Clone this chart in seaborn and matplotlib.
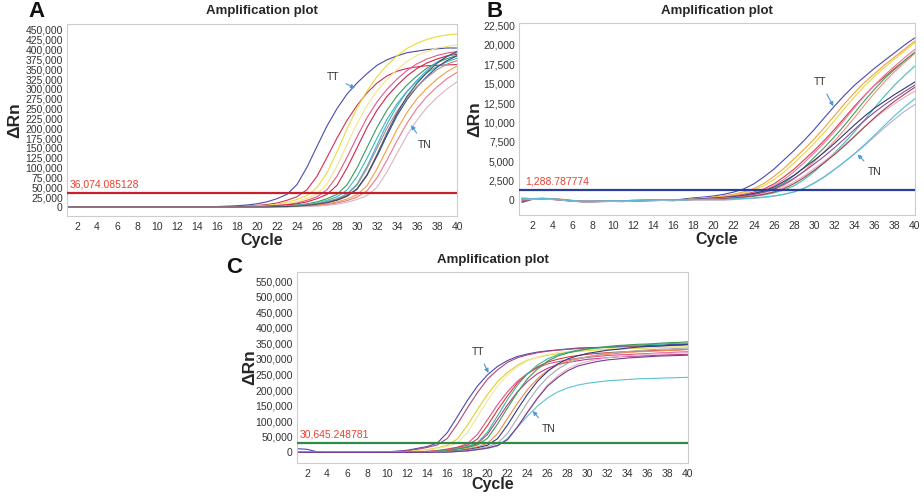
import pandas as pd
import seaborn as sns
import matplotlib.pyplot as plt
from matplotlib.ticker import FuncFormatter

cycles = list(range(1, 41))

# ---- panel A : delta Rn in thousands, one row per well ----
a_curves = [
    [0, 0, 0, 0, 0, 0, 0, 0, 0, 0, 0, 0, 0, 0, 0, 1, 2, 3, 5, 8, 13, 21, 32, 57, 101, 154, 206, 250, 287, 315, 339, 360, 374, 384, 392, 396, 400, 402, 404, 404],
    [0, 0, 0, 0, 0, 0, 0, 0, 0, 0, 0, 0, 0, 0, 0, 0, 1, 1, 2, 4, 6, 10, 17, 26, 44, 78, 126, 175, 220, 258, 290, 315, 333, 345, 352, 356, 359, 360, 361, 362],
    [0, 0, 0, 0, 0, 0, 0, 0, 0, 0, 0, 0, 0, 0, 0, 0, 0, 1, 1, 2, 4, 7, 12, 19, 29, 49, 87, 140, 198, 251, 295, 331, 360, 384, 403, 416, 426, 433, 437, 440],
    [0, 0, 0, 0, 0, 0, 0, 0, 0, 0, 0, 0, 0, 0, 0, 0, 0, 0, 1, 2, 3, 5, 8, 14, 22, 33, 58, 104, 158, 212, 258, 295, 324, 349, 370, 385, 395, 404, 408, 412],
    [0, 0, 0, 0, 0, 0, 0, 0, 0, 0, 0, 0, 0, 0, 0, 0, 0, 0, 1, 1, 2, 4, 6, 10, 17, 26, 44, 78, 126, 178, 227, 267, 299, 325, 347, 364, 376, 385, 391, 395],
    [0, 0, 0, 0, 0, 0, 0, 0, 0, 0, 0, 0, 0, 0, 0, 0, 0, 0, 0, 1, 2, 3, 5, 8, 13, 21, 32, 55, 99, 150, 202, 246, 281, 309, 333, 352, 366, 376, 384, 388],
    [0, 0, 0, 0, 0, 0, 0, 0, 0, 0, 0, 0, 0, 0, 0, 0, 0, 0, 0, 0, 1, 2, 3, 5, 8, 13, 21, 32, 56, 99, 151, 202, 246, 282, 310, 333, 353, 367, 377, 385],
    [0, 0, 0, 0, 0, 0, 0, 0, 0, 0, 0, 0, 0, 0, 0, 0, 0, 0, 0, 0, 1, 1, 2, 4, 6, 10, 17, 26, 43, 77, 124, 175, 223, 262, 294, 319, 341, 357, 369, 378],
    [0, 0, 0, 0, 0, 0, 0, 0, 0, 0, 0, 0, 0, 0, 0, 0, 0, 0, 0, 0, 0, 1, 2, 3, 5, 8, 14, 21, 33, 58, 103, 157, 211, 256, 293, 322, 347, 368, 382, 392],
    [0, 0, 0, 0, 0, 0, 0, 0, 0, 0, 0, 0, 0, 0, 0, 0, 0, 0, 0, 0, 0, 1, 1, 2, 4, 7, 11, 17, 27, 45, 80, 129, 182, 232, 273, 305, 332, 355, 372, 384],
    [0, 0, 0, 0, 0, 0, 0, 0, 0, 0, 0, 0, 0, 0, 0, 0, 0, 0, 0, 0, 0, 1, 2, 3, 5, 8, 13, 20, 31, 55, 98, 149, 200, 243, 278, 306, 329, 349, 363, 372],
    [0, 0, 0, 0, 0, 0, 0, 0, 0, 0, 0, 0, 0, 0, 0, 0, 0, 0, 0, 0, 0, 0, 1, 2, 3, 5, 8, 13, 20, 31, 54, 97, 147, 197, 240, 275, 302, 325, 344, 358],
    [0, 0, 0, 0, 0, 0, 0, 0, 0, 0, 0, 0, 0, 0, 0, 0, 0, 0, 0, 0, 0, 0, 1, 1, 2, 4, 6, 10, 16, 25, 41, 74, 119, 168, 213, 251, 281, 305, 326, 342],
    [0, 0, 0, 0, 0, 0, 0, 0, 0, 0, 0, 0, 0, 0, 0, 0, 0, 0, 0, 0, 0, 0, 0, 1, 1, 2, 4, 7, 12, 19, 29, 50, 89, 136, 182, 221, 253, 278, 300, 318],
    [0, 0, 0, 0, 0, 0, 0, 0, 0, 0, 0, 0, 0, 0, 0, 0, 0, 0, 0, 0, 0, 1, 1, 2, 4, 7, 11, 18, 28, 46, 82, 133, 188, 238, 281, 314, 342, 365, 383, 395],
]
a_colors = ['#4b4bab', '#d0305a', '#e8dc3c', '#f0e68c', '#e05a8c', '#cc2844', '#3a9a5a',
            '#3cbcb0', '#4aa8e0', '#2c4a8c', '#b09080', '#f0a040', '#e87890', '#d8b4c4', '#505060']
a_threshold = 36074.085128
a_threshold_text = '36,074.085128'

# ---- panel B : delta Rn in thousands ----
b_curves = [
    [-0.2, 0.15, 0.2, 0.15, 0.05, -0.08, -0.15, -0.15, -0.12, -0.1, -0.12, -0.06, -0.03, 0.0, 0.03, 0.0, 0.15, 0.3, 0.4, 0.55, 0.75, 1.05, 1.45, 2.1, 3.0, 4.0, 5.2, 6.4, 7.7, 9.1, 10.6, 12.1, 13.5, 14.8, 15.9, 17.0, 18.0, 19.0, 20.0, 20.9],
    [0.25, 0.18, 0.23, 0.18, 0.08, -0.05, -0.12, -0.12, -0.09, -0.07, -0.09, -0.03, 0.0, 0.03, 0.06, 0.03, 0.05, 0.2, 0.3, 0.41, 0.56, 0.77, 1.07, 1.48, 2.15, 3.07, 4.1, 5.33, 6.56, 7.89, 9.33, 10.86, 12.4, 13.84, 15.17, 16.3, 17.42, 18.45, 19.47, 20.5],
    [0.3, 0.2, 0.25, 0.2, 0.1, -0.03, -0.1, -0.1, -0.07, -0.05, -0.07, -0.01, 0.02, 0.05, 0.08, 0.05, 0.05, 0.15, 0.26, 0.36, 0.5, 0.67, 0.93, 1.3, 1.85, 2.65, 3.64, 4.78, 6.03, 7.33, 8.73, 10.24, 11.8, 13.31, 14.71, 15.96, 17.1, 18.2, 19.24, 20.28],
    [0.1, 0.13, 0.18, 0.13, 0.03, -0.1, -0.17, -0.17, -0.14, -0.12, -0.14, -0.08, -0.05, -0.02, 0.01, -0.02, 0.05, 0.1, 0.2, 0.3, 0.4, 0.55, 0.75, 1.05, 1.45, 2.1, 3.0, 4.0, 5.2, 6.4, 7.7, 9.1, 10.6, 12.1, 13.5, 14.8, 15.9, 17.0, 18.0, 19.0],
    [-0.3, 0.11, 0.16, 0.11, 0.01, -0.12, -0.19, -0.19, -0.16, -0.14, -0.16, -0.1, -0.07, -0.04, -0.01, -0.04, 0.05, 0.1, 0.15, 0.26, 0.36, 0.5, 0.68, 0.94, 1.31, 1.86, 2.67, 3.67, 4.83, 6.09, 7.4, 8.82, 10.34, 11.91, 13.44, 14.85, 16.11, 17.27, 18.37, 19.42],
    [0.2, 0.17, 0.22, 0.17, 0.07, -0.06, -0.13, -0.13, -0.1, -0.08, -0.1, -0.04, -0.01, 0.02, 0.05, 0.02, 0.05, 0.1, 0.1, 0.21, 0.31, 0.42, 0.58, 0.79, 1.11, 1.53, 2.22, 3.17, 4.23, 5.51, 6.78, 8.16, 9.64, 11.23, 12.82, 14.3, 15.68, 16.85, 18.01, 19.07],
    [0.0, 0.19, 0.24, 0.19, 0.09, -0.04, -0.11, -0.11, -0.08, -0.06, -0.08, -0.02, 0.01, 0.04, 0.07, 0.04, 0.05, 0.1, 0.1, 0.15, 0.26, 0.37, 0.51, 0.69, 0.96, 1.34, 1.91, 2.75, 3.77, 4.96, 6.26, 7.61, 9.06, 10.63, 12.25, 13.82, 15.27, 16.57, 17.76, 18.89],
    [-0.1, 0.12, 0.17, 0.12, 0.02, -0.11, -0.18, -0.18, -0.15, -0.13, -0.15, -0.09, -0.06, -0.03, 0.0, -0.03, 0.05, 0.1, 0.1, 0.1, 0.15, 0.26, 0.36, 0.5, 0.68, 0.94, 1.31, 1.86, 2.67, 3.67, 4.83, 6.09, 7.4, 8.82, 10.34, 11.91, 13.44, 14.85, 16.11, 17.27],
    [0.15, 0.16, 0.21, 0.16, 0.06, -0.07, -0.14, -0.14, -0.11, -0.09, -0.11, -0.05, -0.02, 0.01, 0.04, 0.01, 0.05, 0.1, 0.18, 0.26, 0.34, 0.46, 0.62, 0.86, 1.18, 1.7, 2.42, 3.22, 4.18, 5.14, 6.18, 7.3, 8.5, 9.7, 10.82, 11.86, 12.74, 13.62, 14.42, 15.22],
    [-0.25, 0.1, 0.15, 0.1, 0.0, -0.13, -0.2, -0.2, -0.17, -0.15, -0.17, -0.11, -0.08, -0.05, -0.02, -0.05, 0.05, 0.1, 0.14, 0.22, 0.3, 0.4, 0.54, 0.74, 1.02, 1.44, 2.06, 2.82, 3.7, 4.66, 5.66, 6.74, 7.9, 9.1, 10.26, 11.34, 12.3, 13.18, 14.02, 14.82],
    [0.3, 0.21, 0.26, 0.21, 0.11, -0.02, -0.09, -0.09, -0.06, -0.04, -0.06, 0.0, 0.03, 0.06, 0.09, 0.06, 0.05, 0.1, 0.1, 0.18, 0.26, 0.33, 0.45, 0.61, 0.84, 1.15, 1.66, 2.36, 3.14, 4.08, 5.01, 6.03, 7.12, 8.29, 9.46, 10.55, 11.57, 12.42, 13.28, 14.06],
    [-0.1, 0.14, 0.19, 0.14, 0.04, -0.09, -0.16, -0.16, -0.13, -0.11, -0.13, -0.07, -0.04, -0.01, 0.02, -0.01, 0.05, 0.1, 0.1, 0.14, 0.22, 0.31, 0.42, 0.56, 0.76, 1.05, 1.49, 2.13, 2.92, 3.84, 4.83, 5.87, 6.99, 8.19, 9.44, 10.64, 11.76, 12.76, 13.67, 14.54],
    [0.05, 0.09, 0.14, 0.09, -0.01, -0.14, -0.21, -0.21, -0.18, -0.16, -0.18, -0.12, -0.09, -0.06, -0.03, -0.06, 0.0, 0.0, 0.0, 0.0, 0.0, 0.08, 0.16, 0.23, 0.35, 0.51, 0.74, 1.05, 1.56, 2.26, 3.04, 3.98, 4.91, 5.93, 7.02, 8.19, 9.36, 10.45, 11.47, 12.32],
    [0.2, 0.18, 0.23, 0.18, 0.08, -0.05, -0.12, -0.12, -0.09, -0.07, -0.09, -0.03, 0.0, 0.03, 0.06, 0.03, 0.05, 0.1, 0.1, 0.1, 0.1, 0.14, 0.23, 0.31, 0.42, 0.57, 0.78, 1.08, 1.53, 2.18, 2.99, 3.93, 4.95, 6.01, 7.16, 8.39, 9.66, 10.9, 12.04, 13.06],
]
b_colors = ['#4848b0', '#f0a040', '#e8d840', '#d83c4c', '#e878a0', '#40a060', '#f0907c',
            '#40c0b0', '#303878', '#8a4c9c', '#e8a8c8', '#a04848', '#b8b0c8', '#50c0d8']
b_threshold = 1288.787774
b_threshold_text = '1,288.787774'

# ---- panel C : delta Rn in thousands ----
c_curves = [
    [12, 10, 2, 0, 0, 0, 0, 0, 1, 2, 4, 7, 13, 19, 30, 64, 115, 167, 213, 249, 276, 295, 308, 316, 322, 326, 329, 332, 335, 336, 337, 338, 340, 341, 342, 343, 344, 346, 347, 348],
    [0, 0, 0, 0, 0, 0, 0, 0, 1, 1, 3, 5, 10, 16, 24, 45, 91, 143, 192, 235, 265, 289, 304, 313, 320, 325, 328, 331, 333, 335, 336, 337, 338, 339, 339, 340, 341, 342, 343, 344],
    [0, 0, 0, 0, 0, 0, 0, 0, 0, 1, 1, 3, 5, 9, 15, 23, 43, 87, 138, 186, 227, 257, 280, 296, 305, 312, 317, 321, 324, 327, 329, 330, 331, 333, 334, 335, 337, 338, 339, 341],
    [0, 0, 0, 0, 0, 0, 0, 0, 0, 0, 1, 2, 4, 7, 13, 19, 30, 64, 115, 167, 213, 249, 275, 294, 306, 314, 320, 324, 327, 329, 332, 333, 334, 335, 336, 337, 338, 339, 340, 341],
    [0, 0, 0, 0, 0, 0, 0, 0, 0, 0, 0, 1, 2, 3, 6, 11, 17, 28, 58, 105, 153, 195, 229, 254, 272, 284, 291, 297, 302, 305, 308, 311, 313, 314, 316, 317, 319, 320, 322, 323],
    [0, 0, 0, 0, 0, 0, 0, 0, 0, 0, 0, 1, 1, 3, 5, 9, 15, 23, 43, 86, 136, 182, 223, 252, 275, 290, 299, 306, 311, 315, 318, 320, 322, 323, 324, 326, 327, 328, 329, 331],
    [0, 0, 0, 0, 0, 0, 0, 0, 0, 0, 0, 0, 1, 2, 3, 6, 12, 17, 28, 58, 105, 153, 195, 228, 253, 270, 282, 289, 294, 299, 301, 304, 307, 308, 309, 310, 312, 313, 314, 315],
    [0, 0, 0, 0, 0, 0, 0, 0, 0, 0, 0, 0, 1, 2, 4, 7, 13, 19, 31, 65, 117, 170, 216, 253, 281, 300, 313, 321, 328, 332, 335, 338, 342, 343, 344, 346, 347, 349, 350, 351],
    [0, 0, 0, 0, 0, 0, 0, 0, 0, 0, 0, 0, 1, 1, 3, 5, 10, 16, 24, 45, 91, 143, 193, 237, 268, 293, 309, 319, 326, 332, 336, 340, 343, 345, 347, 348, 350, 352, 353, 355],
    [0, 0, 0, 0, 0, 0, 0, 0, 0, 0, 0, 0, 0, 1, 2, 4, 7, 12, 18, 29, 60, 109, 158, 202, 237, 263, 281, 293, 301, 307, 312, 315, 318, 321, 323, 324, 326, 327, 329, 330],
    [0, 0, 0, 0, 0, 0, 0, 0, 0, 0, 0, 0, 0, 1, 1, 3, 5, 9, 15, 23, 44, 88, 139, 187, 229, 260, 284, 300, 310, 318, 323, 328, 331, 335, 338, 340, 341, 343, 345, 347],
    [0, 0, 0, 0, 0, 0, 0, 0, 0, 0, 0, 0, 0, 0, 1, 2, 4, 7, 12, 18, 29, 61, 111, 161, 206, 241, 267, 286, 299, 307, 313, 318, 321, 324, 327, 329, 331, 332, 334, 335],
    [0, 0, 0, 0, 0, 0, 0, 0, 0, 0, 0, 0, 0, 0, 1, 1, 3, 5, 9, 15, 22, 41, 83, 131, 177, 217, 245, 268, 283, 292, 298, 304, 307, 310, 313, 315, 317, 318, 319, 321],
    [0, 0, 0, 0, 0, 0, 0, 0, 0, 0, 0, 0, 0, 0, 1, 1, 3, 5, 9, 13, 21, 45, 81, 117, 149, 175, 194, 207, 216, 222, 226, 230, 232, 234, 236, 237, 238, 239, 240, 241],
    [0, 0, 0, 0, 0, 0, 0, 0, 0, 0, 0, 0, 0, 0, 1, 1, 3, 5, 9, 14, 22, 41, 82, 129, 174, 213, 240, 262, 277, 285, 292, 297, 300, 303, 305, 307, 309, 310, 311, 312],
]
c_colors = ['#4a4ab0', '#b04878', '#e0d030', '#f0e8a0', '#e0508c', '#d83838', '#b83c8c',
            '#38b8a0', '#3c9c50', '#f08848', '#2c3c84', '#a8a8b0', '#e4b4c8', '#58c4d4', '#7a3a90']
c_threshold = 30645.248781
c_threshold_text = '30,645.248781'

sns.set_style("white")
plt.rcParams['font.family'] = ['Liberation Sans', 'DejaVu Sans']

fig = plt.figure(figsize=(9.24, 4.96), dpi=100)
W, H = 924, 496


def px_axes(x0, y0, x1, y1):
    # pixel box (top-left origin) -> figure axes
    return fig.add_axes([x0 / W, 1 - y1 / H, (x1 - x0) / W, (y1 - y0) / H])


def panel(ax, curves, colors, thr, thr_text, thr_color, ylim, yticks, xlim,
          ylab_x, xlab_y, title_y, tt, tn):
    rows = []
    for i, vals in enumerate(curves):
        for c, v in zip(cycles, vals):
            rows.append((c, v * 1000, 'w%d' % i))
    df = pd.DataFrame(rows, columns=['Cycle', 'dRn', 'well'])
    sns.lineplot(data=df, x='Cycle', y='dRn', hue='well', palette=colors,
                 legend=False, linewidth=0.8, ax=ax, errorbar=None)
    ax.axhline(thr, color=thr_color, lw=1.6, zorder=5)
    ax.annotate(thr_text, xy=(1.3, thr), xytext=(0, 2.5), textcoords='offset points',
                color='#e8412c', fontsize=7.5, va='bottom', ha='left')
    ax.set_xlim(*xlim)
    ax.set_ylim(*ylim)
    ax.set_xticks(range(2, 41, 2))
    ax.set_yticks(yticks)
    ax.yaxis.set_major_formatter(FuncFormatter(lambda v, p: f'{int(round(v)):,}'))
    ax.tick_params(axis='x', length=2.5, color='#bbbbbb', labelsize=7.5,
                   labelcolor='#333333', pad=1.5)
    ax.tick_params(axis='y', length=0, labelsize=7.5, labelcolor='#333333', pad=3)
    for s in ax.spines.values():
        s.set_color('#cccccc')
        s.set_linewidth(0.8)
    ax.set_xlabel('Cycle', fontsize=11.5, fontweight='bold', va='center')
    ax.set_ylabel('ΔRn', fontsize=12.5, fontweight='bold', va='center')
    ax.xaxis.set_label_coords(0.5, xlab_y)
    ax.yaxis.set_label_coords(ylab_x, 0.5)
    ax.set_title('Amplification plot', fontsize=9.5, fontweight='bold',
                 y=title_y, va='center', pad=0)
    arrow = dict(arrowstyle='-|>', color='#4a9ad8', lw=0.8, mutation_scale=6,
                 shrinkA=3, shrinkB=0)
    for label, (tip, txt) in (('TT', tt), ('TN', tn)):
        ax.annotate(label, xy=tip, xytext=txt, fontsize=7.5, color='#333333',
                    ha='center', va='center', arrowprops=arrow)


ax_a = px_axes(67, 24, 457, 216)
panel(ax_a, a_curves, a_colors, a_threshold, a_threshold_text, '#c8202c',
      (-23000, 465000), range(0, 450001, 25000), (1, 40),
      -0.133, -0.128, 1.068,
      ((29.8, 302000), (27.6, 330000)), ((35.4, 208000), (36.8, 158000)))

ax_b = px_axes(519, 23, 915, 215)
panel(ax_b, b_curves, b_colors, b_threshold, b_threshold_text, '#2a3f9a',
      (-1900, 22800), range(0, 22501, 2500), (0.7, 40),
      -0.111, -0.130, 1.063,
      ((31.9, 12100), (30.6, 15200)), ((34.3, 5900), (36.0, 3600)))

ax_c = px_axes(297, 272, 688, 463)
panel(ax_c, c_curves, c_colors, c_threshold, c_threshold_text, '#2e8b45',
      (-34000, 579000), range(0, 550001, 50000), (1, 40),
      -0.120, -0.115, 1.063,
      ((20.1, 255000), (19.1, 322000)), ((24.5, 133000), (26.1, 75000)))

for letter, x, y in (('A', 28, 1), ('B', 486, 1), ('C', 226, 257)):
    fig.text(x / W, 1 - y / H, letter, fontsize=16, fontweight='bold',
             ha='left', va='top', color='#111111')

fig.savefig('out.png', dpi=100)
